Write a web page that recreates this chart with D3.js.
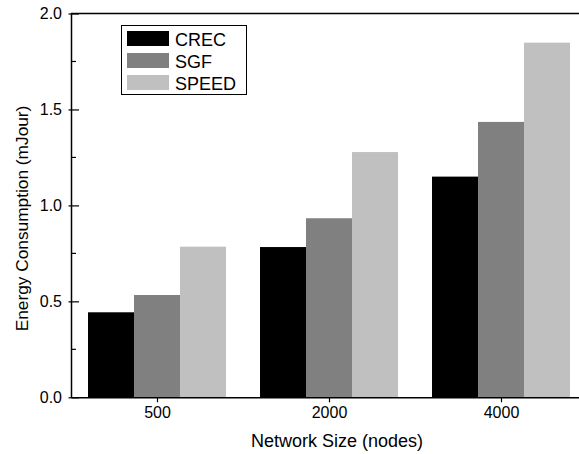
<!DOCTYPE html>
<html><head><meta charset="utf-8">
<script src="https://cdn.jsdelivr.net/npm/d3@7"></script>
<style>body{margin:0;background:#fff}svg{display:block;font-family:"Liberation Sans",Arial,sans-serif}</style>
</head><body>
<svg id="c" width="579" height="454"></svg>
<script>
const categories = ["500", "2000", "4000"];
const seriesNames = ["CREC", "SGF", "SPEED"];
const crec = [0.443, 0.783, 1.150];
const sgf = [0.533, 0.933, 1.435];
const speed = [0.785, 1.278, 1.848];
const yTicks = [0, 0.5, 1.0, 1.5, 2.0];
const yMinorTicks = [0.25, 0.75, 1.25, 1.75];
const colors = ["#000000", "#808080", "#c0c0c0"];
const series = [crec, sgf, speed];

const svg = d3.select("#c");
const x = d3.scaleLinear().domain([0.5, 3.5]).range([71, 587]);
const y = d3.scaleLinear().domain([0, 2]).range([397.3, 13.5]);
const bw = 0.2674;

// bars
series.forEach((vals, si) => {
  svg.append("g").selectAll("rect").data(vals).join("rect")
    .attr("x", (d, i) => x(i + 1 + (si - 1.5) * bw))
    .attr("width", (d, i) => x(i + 1 + (si - 0.5) * bw) - x(i + 1 + (si - 1.5) * bw))
    .attr("y", d => y(d))
    .attr("height", d => y(0) - y(d))
    .attr("fill", colors[si]);
});

// frame lines
svg.append("line").attr("x1", x(0.5)).attr("x2", 579).attr("y1", y(2)).attr("y2", y(2))
  .attr("stroke", "#000").attr("stroke-width", 1.5);

// y axis
const yAxis = d3.axisLeft(y).tickValues(yTicks).tickFormat(d3.format(".1f")).tickSizeInner(-8).tickSizeOuter(0).tickPadding(10);
const gy = svg.append("g").attr("transform", `translate(${x(0.5)},0)`).call(yAxis);
gy.select(".domain").attr("stroke-width", 1.5);
gy.selectAll(".tick line").attr("x1", -2.5).attr("x2", 8).attr("stroke-width", 1.2);
gy.selectAll(".tick text").attr("font-size", 16).attr("font-family", '"Liberation Sans",Arial,sans-serif').attr("fill", "#000").attr("x", -9);
svg.append("g").selectAll("line").data(yMinorTicks).join("line")
  .attr("x1", x(0.5)).attr("x2", x(0.5) + 5).attr("y1", d => y(d)).attr("y2", d => y(d))
  .attr("stroke", "#000").attr("stroke-width", 1.2);

// x axis
const xAxis = d3.axisBottom(x).tickValues([1, 2, 3]).tickFormat(d => categories[d - 1]).tickSizeInner(5).tickSizeOuter(0).tickPadding(4);
const gx = svg.append("g").attr("transform", `translate(0,${y(0)})`).call(xAxis);
gx.select(".domain").attr("stroke-width", 1.5);
gx.selectAll(".tick line").attr("stroke-width", 1.2);
gx.selectAll(".tick text").attr("font-size", 16).attr("font-family", '"Liberation Sans",Arial,sans-serif').attr("fill", "#000");

// axis titles
svg.append("text").attr("x", 337).attr("y", 447).attr("text-anchor", "middle")
  .attr("font-size", 18).text("Network Size (nodes)");
svg.append("text").attr("transform", "translate(28,218.5) rotate(-90)").attr("text-anchor", "middle")
  .attr("font-size", 17.3).text("Energy Consumption (mJour)");

// legend
const lg = svg.append("g");
lg.append("rect").attr("x", 121.5).attr("y", 25.5).attr("width", 125).attr("height", 69)
  .attr("fill", "#fff").attr("stroke", "#000").attr("stroke-width", 1);
seriesNames.forEach((n, i) => {
  lg.append("rect").attr("x", 127).attr("y", 31 + i * 22).attr("width", 42).attr("height", 15).attr("fill", colors[i]);
  lg.append("text").attr("x", 175).attr("y", 45.5 + i * 22).attr("font-size", 18).text(n);
});
</script>
</body></html>
